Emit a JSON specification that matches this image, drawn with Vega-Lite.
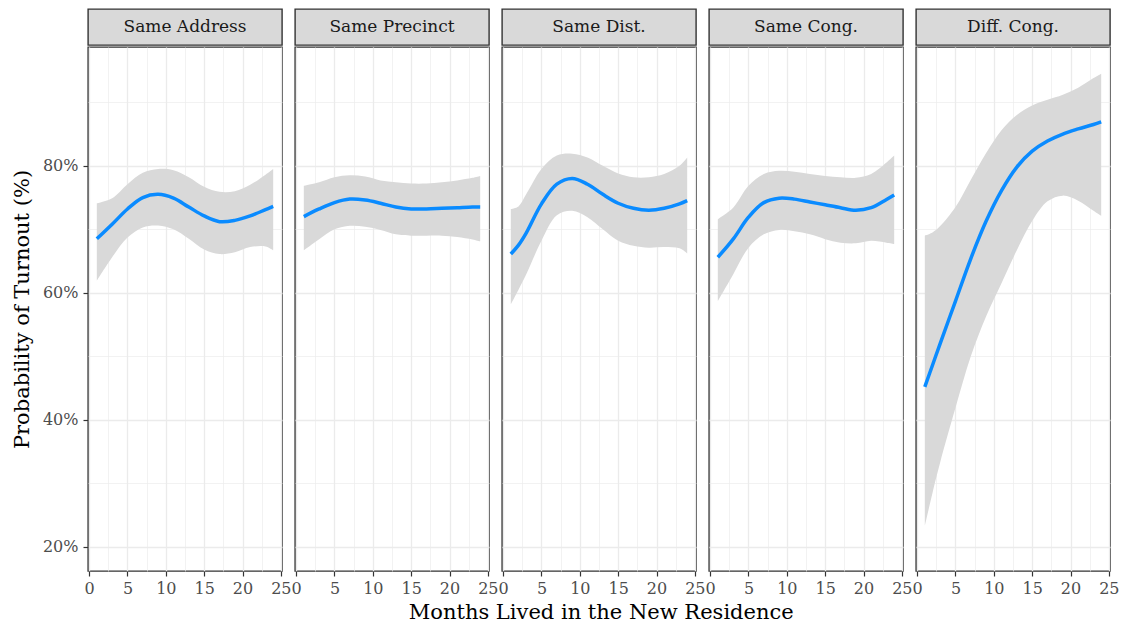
{
  "$schema": "https://vega.github.io/schema/vega-lite/v6.json",
  "background": "white",
  "padding": {"left": 10, "top": 8, "right": 10, "bottom": 4},
  "spacing": -2,
  "title": {"text": "Months Lived in the New Residence", "orient": "bottom", "anchor": "middle", "frame": "bounds", "dx": 36, "offset": 5, "fontSize": 21, "font": "DejaVu Serif", "fontWeight": "normal", "color": "#000000"},
  "config": {
    "font": "DejaVu Serif",
    "view": {"stroke": "#333333", "strokeWidth": 1.4},
    "axis": {
      "domain": false,
      "gridColor": "#EBEBEB",
      "tickColor": "#333333",
      "tickSize": 5,
      "tickWidth": 1.2,
      "labelColor": "#4D4D4D",
      "labelFontSize": 16,
      "labelFont": "DejaVu Serif",
      "titleFont": "DejaVu Serif",
      "titleColor": "#000000",
      "titleFontWeight": "normal",
      "titleFontSize": 21,
      "labelOverlap": false,
      "labelFlush": false
    }
  },
  "datasets": {
    "panels": [
      {"panel": "Same Address"},
      {"panel": "Same Precinct"},
      {"panel": "Same Dist."},
      {"panel": "Same Cong."},
      {"panel": "Diff. Cong."}
    ],
    "curves": [
      {"panel": "Same Address", "month": 1, "fit": 68.5, "lower": 61.9, "upper": 74.1},
      {"panel": "Same Address", "month": 3, "fit": 70.8, "lower": 65.6, "upper": 74.9},
      {"panel": "Same Address", "month": 5, "fit": 73.2, "lower": 68.7, "upper": 77.1},
      {"panel": "Same Address", "month": 7, "fit": 75.0, "lower": 70.3, "upper": 78.9},
      {"panel": "Same Address", "month": 9, "fit": 75.5, "lower": 70.6, "upper": 79.5},
      {"panel": "Same Address", "month": 11, "fit": 74.9, "lower": 70.0, "upper": 79.3},
      {"panel": "Same Address", "month": 13, "fit": 73.5, "lower": 68.5, "upper": 78.2},
      {"panel": "Same Address", "month": 15, "fit": 72.1, "lower": 66.8, "upper": 76.7},
      {"panel": "Same Address", "month": 17, "fit": 71.2, "lower": 66.1, "upper": 75.9},
      {"panel": "Same Address", "month": 19, "fit": 71.4, "lower": 66.4, "upper": 76.0},
      {"panel": "Same Address", "month": 21, "fit": 72.1, "lower": 67.2, "upper": 77.0},
      {"panel": "Same Address", "month": 23, "fit": 73.1, "lower": 67.3, "upper": 78.6},
      {"panel": "Same Address", "month": 24, "fit": 73.6, "lower": 66.7, "upper": 79.5},
      {"panel": "Same Precinct", "month": 1, "fit": 72.0, "lower": 66.7, "upper": 76.85},
      {"panel": "Same Precinct", "month": 3, "fit": 73.2, "lower": 68.45, "upper": 77.4},
      {"panel": "Same Precinct", "month": 5, "fit": 74.2, "lower": 70.0, "upper": 78.2},
      {"panel": "Same Precinct", "month": 7, "fit": 74.75, "lower": 70.55, "upper": 78.5},
      {"panel": "Same Precinct", "month": 9, "fit": 74.6, "lower": 70.4, "upper": 78.3},
      {"panel": "Same Precinct", "month": 11, "fit": 74.1, "lower": 69.9, "upper": 77.7},
      {"panel": "Same Precinct", "month": 13, "fit": 73.5, "lower": 69.2, "upper": 77.4},
      {"panel": "Same Precinct", "month": 15, "fit": 73.2, "lower": 69.0, "upper": 77.2},
      {"panel": "Same Precinct", "month": 17, "fit": 73.2, "lower": 69.0, "upper": 77.2},
      {"panel": "Same Precinct", "month": 19, "fit": 73.3, "lower": 69.0, "upper": 77.4},
      {"panel": "Same Precinct", "month": 21, "fit": 73.4, "lower": 68.8, "upper": 77.7},
      {"panel": "Same Precinct", "month": 23, "fit": 73.5, "lower": 68.4, "upper": 78.1},
      {"panel": "Same Precinct", "month": 24, "fit": 73.5, "lower": 68.1, "upper": 78.4},
      {"panel": "Same Dist.", "month": 1, "fit": 66.1, "lower": 58.2, "upper": 73.2},
      {"panel": "Same Dist.", "month": 2, "fit": 67.5, "lower": 60.5, "upper": 73.6},
      {"panel": "Same Dist.", "month": 3, "fit": 69.4, "lower": 62.9, "upper": 75.5},
      {"panel": "Same Dist.", "month": 5, "fit": 74.0, "lower": 68.2, "upper": 79.5},
      {"panel": "Same Dist.", "month": 7, "fit": 77.1, "lower": 72.2, "upper": 81.6},
      {"panel": "Same Dist.", "month": 9, "fit": 78.0, "lower": 72.9, "upper": 81.9},
      {"panel": "Same Dist.", "month": 11, "fit": 77.1, "lower": 71.9, "upper": 81.3},
      {"panel": "Same Dist.", "month": 13, "fit": 75.5, "lower": 70.0, "upper": 80.0},
      {"panel": "Same Dist.", "month": 15, "fit": 74.1, "lower": 68.2, "upper": 78.8},
      {"panel": "Same Dist.", "month": 17, "fit": 73.3, "lower": 67.4, "upper": 78.2},
      {"panel": "Same Dist.", "month": 19, "fit": 73.0, "lower": 67.1, "upper": 78.2},
      {"panel": "Same Dist.", "month": 21, "fit": 73.3, "lower": 67.2, "upper": 78.7},
      {"panel": "Same Dist.", "month": 23, "fit": 74.0, "lower": 67.0, "upper": 80.0},
      {"panel": "Same Dist.", "month": 24, "fit": 74.5, "lower": 66.2, "upper": 81.3},
      {"panel": "Same Cong.", "month": 1, "fit": 65.6, "lower": 58.7, "upper": 71.6},
      {"panel": "Same Cong.", "month": 3, "fit": 68.45, "lower": 62.9, "upper": 73.4},
      {"panel": "Same Cong.", "month": 5, "fit": 71.9, "lower": 67.1, "upper": 76.85},
      {"panel": "Same Cong.", "month": 7, "fit": 74.2, "lower": 69.2, "upper": 78.7},
      {"panel": "Same Cong.", "month": 9, "fit": 74.9, "lower": 69.9, "upper": 79.2},
      {"panel": "Same Cong.", "month": 11, "fit": 74.75, "lower": 69.7, "upper": 79.05},
      {"panel": "Same Cong.", "month": 13, "fit": 74.3, "lower": 69.2, "upper": 78.7},
      {"panel": "Same Cong.", "month": 15, "fit": 73.85, "lower": 68.45, "upper": 78.4},
      {"panel": "Same Cong.", "month": 17, "fit": 73.4, "lower": 67.9, "upper": 78.2},
      {"panel": "Same Cong.", "month": 19, "fit": 73.0, "lower": 67.8, "upper": 78.1},
      {"panel": "Same Cong.", "month": 21, "fit": 73.4, "lower": 68.2, "upper": 78.7},
      {"panel": "Same Cong.", "month": 23, "fit": 74.7, "lower": 67.9, "upper": 80.5},
      {"panel": "Same Cong.", "month": 24, "fit": 75.4, "lower": 67.7, "upper": 81.6},
      {"panel": "Diff. Cong.", "month": 1, "fit": 45.2, "lower": 23.3, "upper": 69.0},
      {"panel": "Diff. Cong.", "month": 2, "fit": 48.6, "lower": 28.5, "upper": 69.5},
      {"panel": "Diff. Cong.", "month": 3, "fit": 52.0, "lower": 33.3, "upper": 70.5},
      {"panel": "Diff. Cong.", "month": 5, "fit": 58.7, "lower": 41.9, "upper": 73.5},
      {"panel": "Diff. Cong.", "month": 7, "fit": 65.4, "lower": 50.0, "upper": 77.8},
      {"panel": "Diff. Cong.", "month": 9, "fit": 71.3, "lower": 56.3, "upper": 82.0},
      {"panel": "Diff. Cong.", "month": 11, "fit": 76.1, "lower": 61.5, "upper": 85.6},
      {"panel": "Diff. Cong.", "month": 13, "fit": 79.8, "lower": 66.7, "upper": 88.0},
      {"panel": "Diff. Cong.", "month": 15, "fit": 82.3, "lower": 71.3, "upper": 89.5},
      {"panel": "Diff. Cong.", "month": 17, "fit": 83.9, "lower": 74.4, "upper": 90.4},
      {"panel": "Diff. Cong.", "month": 19, "fit": 85.0, "lower": 75.3, "upper": 91.2},
      {"panel": "Diff. Cong.", "month": 21, "fit": 85.8, "lower": 74.5, "upper": 92.3},
      {"panel": "Diff. Cong.", "month": 23, "fit": 86.5, "lower": 72.9, "upper": 93.8},
      {"panel": "Diff. Cong.", "month": 24, "fit": 86.9, "lower": 72.1, "upper": 94.5}
    ]
  },
  "hconcat": [
    {
      "spacing": 0,
      "vconcat": [
        {"data": {"name": "panels"}, "transform": [{"filter": "datum.panel === 'Same Address'"}], "width": 194, "height": 36,
         "view": {"fill": "#D9D9D9", "stroke": "#333333", "strokeWidth": 1.4},
         "mark": {"type": "text", "fontSize": 17, "color": "#1A1A1A", "font": "DejaVu Serif"},
         "encoding": {"text": {"field": "panel"}}},
        {"data": {"name": "curves"}, "transform": [{"filter": "datum.panel === 'Same Address'"}], "width": 194, "height": 524,
         "encoding": {"x": {"field": "month", "type": "quantitative", "scale": {"domain": [-0.15, 25.15], "nice": false, "zero": false},
           "axis": {"values": [0, 2.5, 5, 7.5, 10, 12.5, 15, 17.5, 20, 22.5, 25], "labelExpr": "datum.value % 5 === 0 ? datum.label : ''", "title": null, "labelPadding": 4,
             "tickOpacity": {"condition": {"test": "datum.value % 5 === 0", "value": 1}, "value": 0},
             "gridWidth": {"condition": {"test": "datum.value % 5 === 0", "value": 1.3}, "value": 0.65}}}},
         "layer": [
           {"mark": {"type": "area", "color": "#D9D9D9", "interpolate": "catmull-rom"},
            "encoding": {"y": {"field": "lower", "type": "quantitative", "scale": {"domain": [16.2, 98.7], "nice": false, "zero": false},
              "axis": {"values": [20, 30, 40, 50, 60, 70, 80, 90], "labelExpr": "datum.value % 20 === 0 ? datum.value + '%' : ''", "title": "Probability of Turnout (%)", "labelPadding": 5, "titlePadding": 10,
                "tickOpacity": {"condition": {"test": "datum.value % 20 === 0", "value": 1}, "value": 0},
                "gridWidth": {"condition": {"test": "datum.value % 20 === 0", "value": 1.3}, "value": 0.65}}},
              "y2": {"field": "upper"}}},
           {"mark": {"type": "line", "color": "#0A8BFF", "strokeWidth": 3.5, "interpolate": "catmull-rom"},
            "encoding": {"y": {"field": "fit", "type": "quantitative"}}}
         ]}
      ]
    },
    {
      "spacing": 0,
      "vconcat": [
        {"data": {"name": "panels"}, "transform": [{"filter": "datum.panel === 'Same Precinct'"}], "width": 194, "height": 36,
         "view": {"fill": "#D9D9D9", "stroke": "#333333", "strokeWidth": 1.4},
         "mark": {"type": "text", "fontSize": 17, "color": "#1A1A1A", "font": "DejaVu Serif"},
         "encoding": {"text": {"field": "panel"}}},
        {"data": {"name": "curves"}, "transform": [{"filter": "datum.panel === 'Same Precinct'"}], "width": 194, "height": 524,
         "encoding": {"x": {"field": "month", "type": "quantitative", "scale": {"domain": [-0.15, 25.15], "nice": false, "zero": false},
           "axis": {"values": [0, 2.5, 5, 7.5, 10, 12.5, 15, 17.5, 20, 22.5, 25], "labelExpr": "datum.value % 5 === 0 ? datum.label : ''", "title": null, "labelPadding": 4,
             "tickOpacity": {"condition": {"test": "datum.value % 5 === 0", "value": 1}, "value": 0},
             "gridWidth": {"condition": {"test": "datum.value % 5 === 0", "value": 1.3}, "value": 0.65}}}},
         "layer": [
           {"mark": {"type": "area", "color": "#D9D9D9", "interpolate": "catmull-rom"},
            "encoding": {"y": {"field": "lower", "type": "quantitative", "scale": {"domain": [16.2, 98.7], "nice": false, "zero": false},
              "axis": {"values": [20, 30, 40, 50, 60, 70, 80, 90], "labels": false, "ticks": false, "title": null,
                "gridWidth": {"condition": {"test": "datum.value % 20 === 0", "value": 1.3}, "value": 0.65}}},
              "y2": {"field": "upper"}}},
           {"mark": {"type": "line", "color": "#0A8BFF", "strokeWidth": 3.5, "interpolate": "catmull-rom"},
            "encoding": {"y": {"field": "fit", "type": "quantitative"}}}
         ]}
      ]
    },
    {
      "spacing": 0,
      "vconcat": [
        {"data": {"name": "panels"}, "transform": [{"filter": "datum.panel === 'Same Dist.'"}], "width": 194, "height": 36,
         "view": {"fill": "#D9D9D9", "stroke": "#333333", "strokeWidth": 1.4},
         "mark": {"type": "text", "fontSize": 17, "color": "#1A1A1A", "font": "DejaVu Serif"},
         "encoding": {"text": {"field": "panel"}}},
        {"data": {"name": "curves"}, "transform": [{"filter": "datum.panel === 'Same Dist.'"}], "width": 194, "height": 524,
         "encoding": {"x": {"field": "month", "type": "quantitative", "scale": {"domain": [-0.15, 25.15], "nice": false, "zero": false},
           "axis": {"values": [0, 2.5, 5, 7.5, 10, 12.5, 15, 17.5, 20, 22.5, 25], "labelExpr": "datum.value % 5 === 0 ? datum.label : ''", "title": null, "labelPadding": 4,
             "tickOpacity": {"condition": {"test": "datum.value % 5 === 0", "value": 1}, "value": 0},
             "gridWidth": {"condition": {"test": "datum.value % 5 === 0", "value": 1.3}, "value": 0.65}}}},
         "layer": [
           {"mark": {"type": "area", "color": "#D9D9D9", "interpolate": "catmull-rom"},
            "encoding": {"y": {"field": "lower", "type": "quantitative", "scale": {"domain": [16.2, 98.7], "nice": false, "zero": false},
              "axis": {"values": [20, 30, 40, 50, 60, 70, 80, 90], "labels": false, "ticks": false, "title": null,
                "gridWidth": {"condition": {"test": "datum.value % 20 === 0", "value": 1.3}, "value": 0.65}}},
              "y2": {"field": "upper"}}},
           {"mark": {"type": "line", "color": "#0A8BFF", "strokeWidth": 3.5, "interpolate": "catmull-rom"},
            "encoding": {"y": {"field": "fit", "type": "quantitative"}}}
         ]}
      ]
    },
    {
      "spacing": 0,
      "vconcat": [
        {"data": {"name": "panels"}, "transform": [{"filter": "datum.panel === 'Same Cong.'"}], "width": 194, "height": 36,
         "view": {"fill": "#D9D9D9", "stroke": "#333333", "strokeWidth": 1.4},
         "mark": {"type": "text", "fontSize": 17, "color": "#1A1A1A", "font": "DejaVu Serif"},
         "encoding": {"text": {"field": "panel"}}},
        {"data": {"name": "curves"}, "transform": [{"filter": "datum.panel === 'Same Cong.'"}], "width": 194, "height": 524,
         "encoding": {"x": {"field": "month", "type": "quantitative", "scale": {"domain": [-0.15, 25.15], "nice": false, "zero": false},
           "axis": {"values": [0, 2.5, 5, 7.5, 10, 12.5, 15, 17.5, 20, 22.5, 25], "labelExpr": "datum.value % 5 === 0 ? datum.label : ''", "title": null, "labelPadding": 4,
             "tickOpacity": {"condition": {"test": "datum.value % 5 === 0", "value": 1}, "value": 0},
             "gridWidth": {"condition": {"test": "datum.value % 5 === 0", "value": 1.3}, "value": 0.65}}}},
         "layer": [
           {"mark": {"type": "area", "color": "#D9D9D9", "interpolate": "catmull-rom"},
            "encoding": {"y": {"field": "lower", "type": "quantitative", "scale": {"domain": [16.2, 98.7], "nice": false, "zero": false},
              "axis": {"values": [20, 30, 40, 50, 60, 70, 80, 90], "labels": false, "ticks": false, "title": null,
                "gridWidth": {"condition": {"test": "datum.value % 20 === 0", "value": 1.3}, "value": 0.65}}},
              "y2": {"field": "upper"}}},
           {"mark": {"type": "line", "color": "#0A8BFF", "strokeWidth": 3.5, "interpolate": "catmull-rom"},
            "encoding": {"y": {"field": "fit", "type": "quantitative"}}}
         ]}
      ]
    },
    {
      "spacing": 0,
      "vconcat": [
        {"data": {"name": "panels"}, "transform": [{"filter": "datum.panel === 'Diff. Cong.'"}], "width": 194, "height": 36,
         "view": {"fill": "#D9D9D9", "stroke": "#333333", "strokeWidth": 1.4},
         "mark": {"type": "text", "fontSize": 17, "color": "#1A1A1A", "font": "DejaVu Serif"},
         "encoding": {"text": {"field": "panel"}}},
        {"data": {"name": "curves"}, "transform": [{"filter": "datum.panel === 'Diff. Cong.'"}], "width": 194, "height": 524,
         "encoding": {"x": {"field": "month", "type": "quantitative", "scale": {"domain": [-0.15, 25.15], "nice": false, "zero": false},
           "axis": {"values": [0, 2.5, 5, 7.5, 10, 12.5, 15, 17.5, 20, 22.5, 25], "labelExpr": "datum.value % 5 === 0 ? datum.label : ''", "title": null, "labelPadding": 4,
             "tickOpacity": {"condition": {"test": "datum.value % 5 === 0", "value": 1}, "value": 0},
             "gridWidth": {"condition": {"test": "datum.value % 5 === 0", "value": 1.3}, "value": 0.65}}}},
         "layer": [
           {"mark": {"type": "area", "color": "#D9D9D9", "interpolate": "catmull-rom"},
            "encoding": {"y": {"field": "lower", "type": "quantitative", "scale": {"domain": [16.2, 98.7], "nice": false, "zero": false},
              "axis": {"values": [20, 30, 40, 50, 60, 70, 80, 90], "labels": false, "ticks": false, "title": null,
                "gridWidth": {"condition": {"test": "datum.value % 20 === 0", "value": 1.3}, "value": 0.65}}},
              "y2": {"field": "upper"}}},
           {"mark": {"type": "line", "color": "#0A8BFF", "strokeWidth": 3.5, "interpolate": "catmull-rom"},
            "encoding": {"y": {"field": "fit", "type": "quantitative"}}}
         ]}
      ]
    }
  ]
}
